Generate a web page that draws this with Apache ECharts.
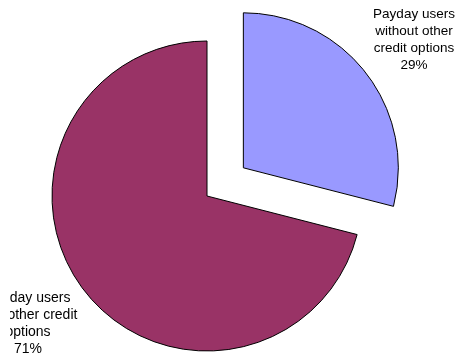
<!DOCTYPE html>
<html>
<head>
<meta charset="utf-8">
<script src="https://cdn.jsdelivr.net/npm/echarts@6/dist/echarts.min.js"></script>
<style>
  html, body { margin: 0; padding: 0; background: #ffffff; }
  #chart { width: 460px; height: 359px; }
</style>
</head>
<body>
<div id="chart"></div>
<script>
// Slice names (with their wrapping) and shares in percent
const categories = [
  'Payday users\nwithout other\ncredit options',
  'Payday users\nwith other credit\noptions'
];
const shares = [29, 71];
const colors = ['#9999FF', '#993366'];
// Exploded slices
const exploded = [true, false];

// Centre and type size of each label block
const labelSpots = [
  { x: 414, y: 40, size: 13.5 },
  { x: 28, y: 324, size: 14 }
];

const chart = echarts.init(document.getElementById('chart'), null, { renderer: 'canvas' });

// Data labels: name followed by the share
const labelTexts = categories.map((name, i) => ({
  type: 'text',
  x: labelSpots[i].x,
  y: labelSpots[i].y,
  z: 50,
  silent: true,
  style: {
    text: name + '\n' + shares[i] + '%',
    fill: '#000000',
    font: labelSpots[i].size + 'px "Liberation Sans", Arial, sans-serif',
    lineHeight: 17,
    align: 'center',
    verticalAlign: 'middle'
  }
}));

chart.setOption({
  backgroundColor: '#ffffff',
  animation: false,
  series: [{
    type: 'pie',
    center: [207, 196],
    radius: [0, 155],
    startAngle: 90,
    clockwise: true,
    selectedMode: 'multiple',
    selectedOffset: 46,
    silent: true,
    emphasis: { disabled: true },
    itemStyle: { borderColor: '#000000', borderWidth: 1 },
    label: { show: false },
    labelLine: { show: false },
    data: categories.map((name, i) => ({
      name: name,
      value: shares[i],
      selected: exploded[i],
      itemStyle: { color: colors[i] },
      select: { itemStyle: { color: colors[i], borderColor: '#000000', borderWidth: 1 } }
    }))
  }],
  graphic: labelTexts.concat([{
    // left margin of the drawing area cuts the lower label
    type: 'rect',
    left: 0,
    top: 270,
    shape: { width: 10, height: 89 },
    style: { fill: '#ffffff' },
    z: 100
  }])
});
</script>
</body>
</html>
